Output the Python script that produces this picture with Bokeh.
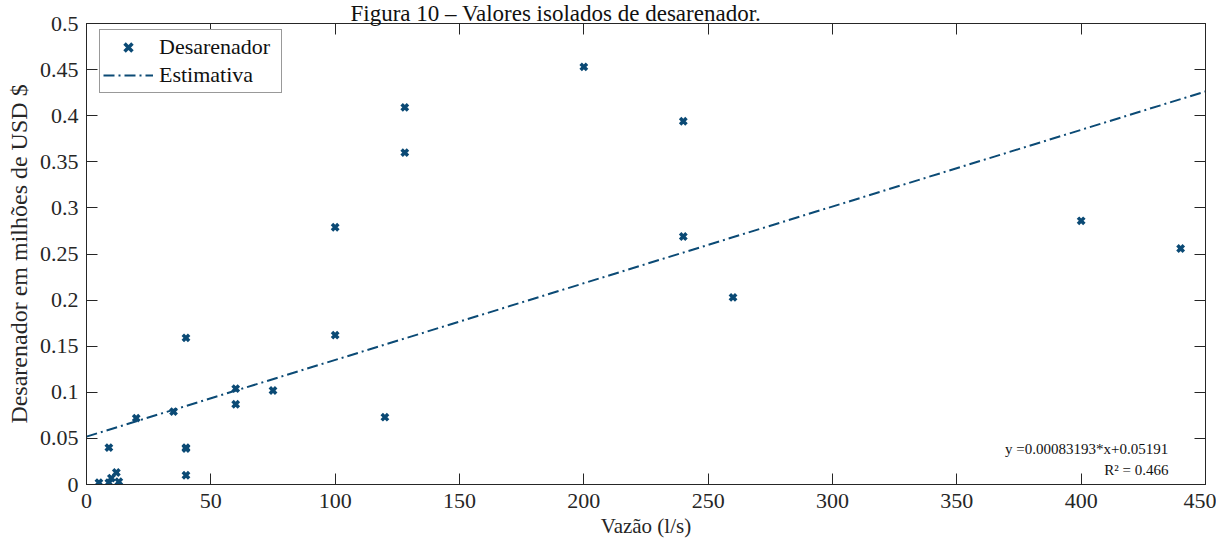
from bokeh.plotting import figure
from bokeh.models import (LinearAxis, FixedTicker, Range1d, Label, Legend, LegendItem,
                          CustomJSTickFormatter)
from bokeh.embed import file_html
from bokeh.resources import INLINE

# ---- data ----
vazao = [5, 9, 9, 10, 12, 13, 20, 35, 40, 40, 40, 40, 60, 60, 75, 100, 100, 120,
         128, 128, 200, 240, 240, 260, 400, 440]
custo = [0.002, 0.040, 0.002, 0.007, 0.013, 0.003, 0.072, 0.079, 0.040, 0.039, 0.010, 0.159,
         0.104, 0.087, 0.102, 0.162, 0.279, 0.073, 0.409, 0.360, 0.453, 0.394, 0.269,
         0.203, 0.286, 0.256]
coef_a = 0.00083193
coef_b = 0.05191
r2 = 0.466
fit_x = [0, 450]
x_ticks = [0, 50, 100, 150, 200, 250, 300, 350, 400, 450]
y_ticks = [0, 0.05, 0.1, 0.15, 0.2, 0.25, 0.3, 0.35, 0.4, 0.45, 0.5]
y_tick_labels = ["0", "0.05", "0.1", "0.15", "0.2", "0.25", "0.3", "0.35", "0.4", "0.45", "0.5"]
title_text = "Figura 10 – Valores isolados de desarenador."

fit_y = [coef_a * x + coef_b for x in fit_x]

COLOR = "#0b4a75"
AX = "#262626"
FONT = "Liberation Serif"

p = figure(width=1216, height=540, output_backend="svg", toolbar_location=None,
           x_range=Range1d(0, 450), y_range=Range1d(0, 0.5),
           min_border_left=86, min_border_top=23, min_border_right=11, min_border_bottom=52)
p.xgrid.visible = False
p.ygrid.visible = False
p.outline_line_color = AX
p.outline_line_width = 1
p.background_fill_color = "white"
p.border_fill_color = "white"

# title (as in the reference, sitting tight against the top edge)
p.title.text = title_text
p.title.align = "left"
p.title.offset = 264
p.title.standoff = -5
p.title.text_font = FONT
p.title.text_font_size = "23px"
p.title.text_font_style = "normal"
p.title.text_color = "#111111"

pts = p.scatter(vazao, custo, marker="x", size=9, line_width=3.5, color=COLOR)
ln = p.line(fit_x, fit_y, line_width=2, color=COLOR, line_dash="11 4 2 4")

# axes styling
for ax in (p.xaxis[0], p.yaxis[0]):
    ax.axis_line_color = AX
    ax.major_tick_line_color = AX
    ax.major_tick_in = 11
    ax.major_tick_out = 0
    ax.minor_tick_line_color = None
    ax.major_label_text_font = FONT
    ax.major_label_text_font_size = "22px"
    ax.major_label_text_color = AX
    ax.axis_label_text_font = FONT
    ax.axis_label_text_font_style = "normal"
    ax.axis_label_text_color = AX

p.xaxis.ticker = FixedTicker(ticks=x_ticks)
p.yaxis.ticker = FixedTicker(ticks=y_ticks)
p.yaxis.major_label_overrides = {t: l for t, l in zip(y_ticks, y_tick_labels)}
p.xaxis.axis_label = "Vazão (l/s)"
p.yaxis.axis_label = "Desarenador em milhões de USD $"
p.xaxis.axis_label_text_font_size = "21px"
p.yaxis.axis_label_text_font_size = "24px"
p.xaxis.major_label_standoff = 9
p.xaxis.axis_label_standoff = 3
p.yaxis.major_label_standoff = 8
p.yaxis.axis_label_standoff = 5

# mirrored ticks on top and right (no labels)
blank = CustomJSTickFormatter(code="return '';")
top = LinearAxis(ticker=FixedTicker(ticks=x_ticks), formatter=blank,
                 major_tick_in=11, major_tick_out=0, minor_tick_line_color=None,
                 axis_line_color=AX, major_tick_line_color=AX, major_label_standoff=0)
right = LinearAxis(ticker=FixedTicker(ticks=y_ticks), formatter=blank,
                   major_tick_in=11, major_tick_out=0, minor_tick_line_color=None,
                   axis_line_color=AX, major_tick_line_color=AX, major_label_standoff=0)
p.add_layout(top, "above")
p.add_layout(right, "right")

# legend
legend = Legend(items=[LegendItem(label="Desarenador", renderers=[pts]),
                       LegendItem(label="Estimativa", renderers=[ln])],
                location=(13, 391), margin=0, padding=3, spacing=0,
                glyph_width=50, glyph_height=28, label_height=28, label_width=119,
                label_standoff=6,
                label_text_font=FONT, label_text_font_size="22px", label_text_color="#111111",
                border_line_color="#333333", border_line_width=1,
                background_fill_color="white", background_fill_alpha=1)
p.add_layout(legend)

# equation annotation
p.add_layout(Label(x=435, y=0.0387, text=f"y ={coef_a:.8f}*x+{coef_b:.5f}",
                   text_align="right", text_baseline="alphabetic",
                   text_font=FONT, text_font_size="15px", text_color="#111111"))
p.add_layout(Label(x=436.6, y=0.0161, text=f"R² =  {r2:.3f}",
                   text_align="right", text_baseline="alphabetic",
                   text_font=FONT, text_font_size="15px", text_color="#111111"))

open("out.html", "w").write(file_html(p, INLINE))
